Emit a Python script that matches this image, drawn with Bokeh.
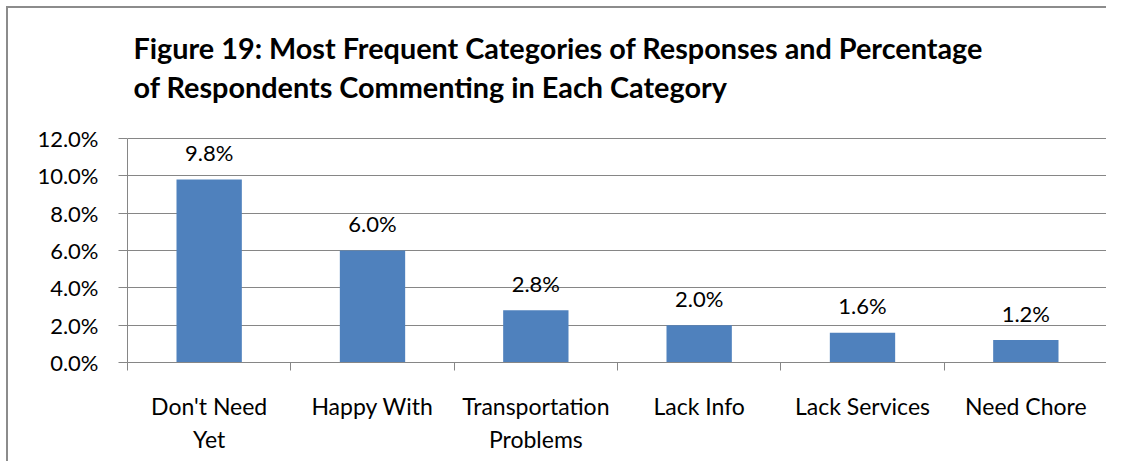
from bokeh.plotting import figure
from bokeh.models import Range1d, FixedTicker, PrintfTickFormatter, Label
from bokeh.core.properties import value
from bokeh.embed import file_html
from bokeh.resources import INLINE

categories = ["Don't Need\nYet", "Happy With", "Transportation\nProblems",
              "Lack Info", "Lack Services", "Need Chore"]
values = [9.8, 6.0, 2.8, 2.0, 1.6, 1.2]
value_labels = ["9.8%", "6.0%", "2.8%", "2.0%", "1.6%", "1.2%"]
y_ticks = [0, 2, 4, 6, 8, 10, 12]
title_line1 = "Figure 19:  Most Frequent Categories of Responses and Percentage"
title_line2 = "of Respondents Commenting in Each Category"

FONT = "Lato"
BAR = "#4F81BD"
GRID = "#868686"

xs = [i + 0.5 for i in range(len(categories))]

# pixel geometry: the value axis (0..12) spans 224 px; frame extends 130 px above it for the title
AXIS_PX = 224.0
TOP_PX = 130.0
px_per_unit = AXIS_PX / y_ticks[-1]
y_top = y_ticks[-1] + TOP_PX / px_per_unit

p = figure(width=1100, height=455, output_backend="svg", toolbar_location=None,
           x_range=Range1d(0, len(categories)), y_range=Range1d(0, y_top),
           min_border_left=119, min_border_right=1, min_border_bottom=101,
           min_border_top=0)
p.title = None
p.outline_line_color = None
p.background_fill_color = "white"
p.border_fill_color = "white"
p.styles = {"border-left": "2px solid #8c8c8c", "border-top": "2px solid #8c8c8c",
            "margin-left": "6px", "margin-top": "6px"}

for txt, dy in [(title_line1, 91), (title_line2, 52)]:
    p.add_layout(Label(x=0, y=y_ticks[-1] + dy / px_per_unit, x_offset=6,
                       text=txt, text_font=FONT, text_font_size="28.8px",
                       text_font_style="bold", text_color="black",
                       text_baseline="alphabetic", text_align="left"))

p.vbar(x=xs, top=values, width=0.4, bottom=0, fill_color=BAR, line_color=None)
p.text(x=xs, y=values, text=value_labels, text_align="center", text_baseline="alphabetic",
       y_offset=-27, text_font=value(FONT), text_font_size="22px", text_color="black")

# y axis
p.yaxis.ticker = FixedTicker(ticks=y_ticks)
p.yaxis.bounds = (y_ticks[0], y_ticks[-1])
p.yaxis.formatter = PrintfTickFormatter(format="%.1f%%")
p.yaxis.axis_line_color = GRID
p.yaxis.major_tick_line_color = GRID
p.yaxis.major_tick_out = 9
p.yaxis.major_tick_in = 0
p.yaxis.minor_tick_line_color = None
p.yaxis.major_label_standoff = 20
p.yaxis.major_label_text_font = FONT
p.yaxis.major_label_text_font_size = "22px"
p.yaxis.major_label_text_color = "black"

p.ygrid.grid_line_color = GRID
p.ygrid.ticker = FixedTicker(ticks=y_ticks)
p.xgrid.grid_line_color = None

# x axis
p.xaxis.ticker = FixedTicker(ticks=xs, minor_ticks=list(range(len(categories) + 1)))
p.xaxis.major_label_overrides = {x: c for x, c in zip(xs, categories)}
p.xaxis.axis_line_color = GRID
p.xaxis.major_tick_line_color = None
p.xaxis.minor_tick_line_color = GRID
p.xaxis.minor_tick_out = 8
p.xaxis.minor_tick_in = 0
p.xaxis.major_label_standoff = 21
p.xaxis.major_label_text_font = FONT
p.xaxis.major_label_text_font_size = "23px"
p.xaxis.major_label_text_color = "black"

open("out.html", "w").write(file_html(p, INLINE))
